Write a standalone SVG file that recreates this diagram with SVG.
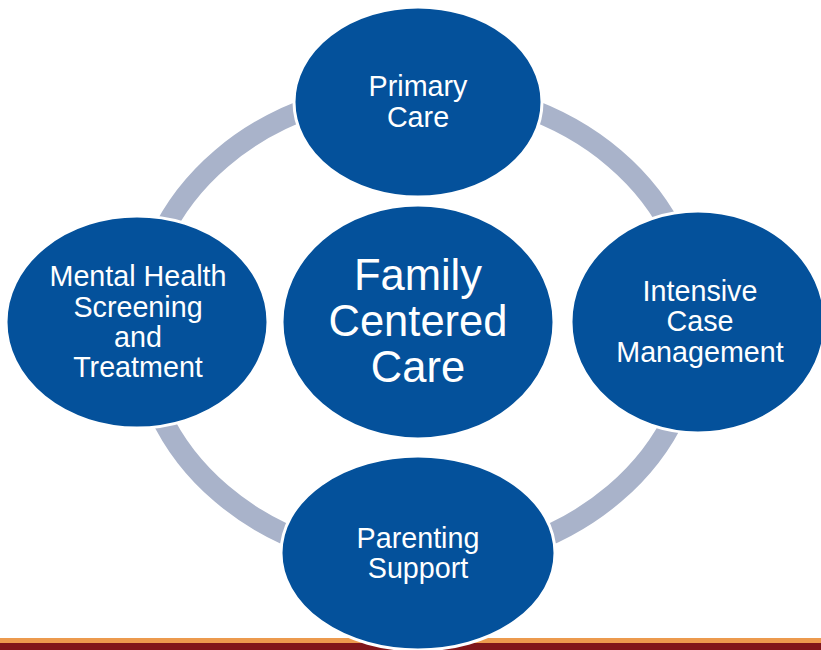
<svg xmlns="http://www.w3.org/2000/svg" width="821" height="650" viewBox="0 0 821 650">
<style>
.node{fill:#04519B;stroke:#FFFFFF;stroke-width:3}
.lbl{font-family:"Liberation Sans",Arial,sans-serif;font-size:28.7px;fill:#FFFFFF;text-anchor:middle}
.big{font-family:"Liberation Sans",Arial,sans-serif;font-size:43.5px;fill:#FFFFFF;text-anchor:middle}
</style>
<rect x="0" y="0" width="821" height="650" fill="#FFFFFF"/>
<g id="footer">
<rect x="0" y="638" width="821" height="5" fill="#EC9A4E"/>
<rect x="0" y="643" width="821" height="7" fill="#80161A"/>
</g>
<g id="connectors">
<ellipse cx="418" cy="326" rx="278" ry="237" fill="none" stroke="#A9B3CA" stroke-width="21"/>
</g>
<g id="node-center">
<ellipse class="node" cx="418" cy="322" rx="136" ry="117"/>
<text class="big"><tspan x="418" y="290">Family</tspan><tspan x="418" y="336">Centered</tspan><tspan x="418" y="382">Care</tspan></text>
</g>
<g id="node-primary">
<ellipse class="node" cx="418" cy="102" rx="124" ry="95"/>
<text class="lbl"><tspan x="418" y="96">Primary</tspan><tspan x="418" y="126.5">Care</tspan></text>
</g>
<g id="node-intensive">
<ellipse class="node" cx="698" cy="322" rx="127" ry="111"/>
<text class="lbl"><tspan x="700" y="300.5">Intensive</tspan><tspan x="700" y="331">Case</tspan><tspan x="700" y="361.5">Management</tspan></text>
</g>
<g id="node-parenting">
<ellipse class="node" cx="418" cy="553" rx="137" ry="97"/>
<text class="lbl"><tspan x="418" y="548">Parenting</tspan><tspan x="418" y="578">Support</tspan></text>
</g>
<g id="node-mental">
<ellipse class="node" cx="137" cy="322" rx="131" ry="106"/>
<text class="lbl"><tspan x="138" y="286">Mental Health</tspan><tspan x="138" y="316.5">Screening</tspan><tspan x="138" y="346.5">and</tspan><tspan x="138" y="376.5">Treatment</tspan></text>
</g>
</svg>
